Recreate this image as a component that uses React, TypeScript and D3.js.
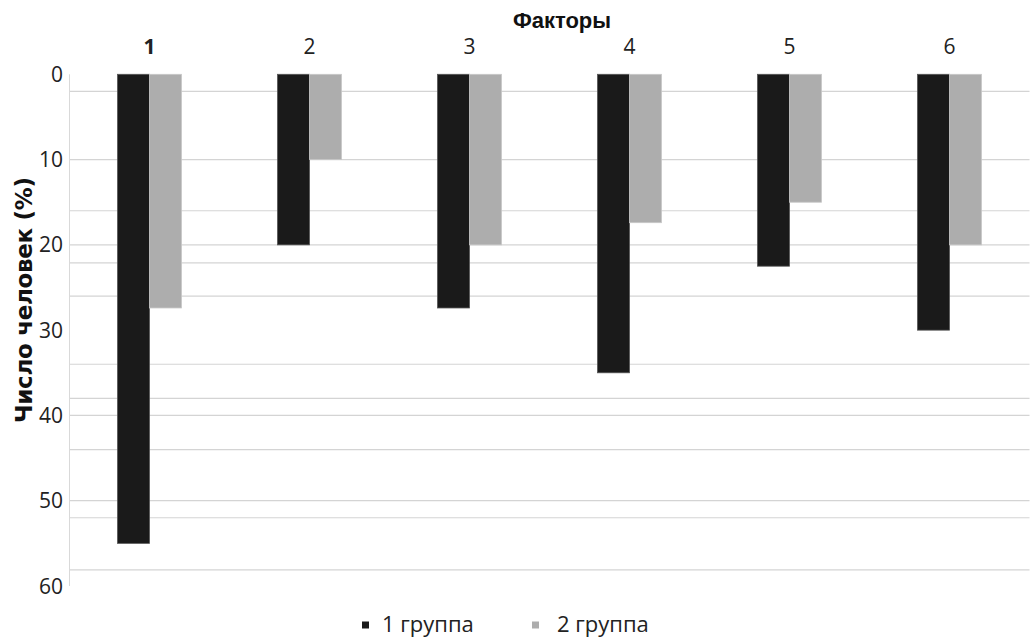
import React from "react";
import * as d3 from "d3";

const categories = ["1", "2", "3", "4", "5", "6"];
const seriesNames = ["1 группа", "2 группа"];
const group1 = [55, 20, 27.4, 35, 22.5, 30];
const group2 = [27.4, 10, 20, 17.4, 15, 20];
const yTicks = [0, 10, 20, 30, 40, 50, 60];
const gridValues = [2, 10, 16, 20, 22.1, 26, 34, 38, 40, 44, 50, 52, 58.1];
const colors = ["#1a1a1a", "#adadad"];
const strokes = ["#555555", "#c8c8c8"];

const W = 1031;
const H = 640;
const left = 69.5;
const right = 1029.5;
const top = 74.3;
const bottom = 586;

export default function App() {
  const x = d3.scaleBand<string>().domain(categories).range([left, right]).paddingInner(0.6).paddingOuter(0.3);
  const xs = d3.scaleBand<string>().domain(seriesNames).range([0, x.bandwidth()]);
  const y = d3.scaleLinear().domain([0, 60]).range([top, bottom]);
  const data = [group1, group2];
  const font = "'Open Sans', Lato, sans-serif";

  return (
    <div style={{ position: "absolute", left: 0, top: 0 }}>
      <svg width={W} height={H} style={{ display: "block", background: "#fff" }}>
        {gridValues.map((g, i) => (
          <line key={"g" + i} x1={left} x2={right} y1={y(g)} y2={y(g)} stroke="#d4d4d4" strokeWidth={1.2} />
        ))}
        <line x1={left} x2={left} y1={top} y2={bottom} stroke="#d9d9d9" strokeWidth={1} />
        {data.map((vals, si) =>
          categories.map((c, ci) => (
            <rect
              key={si + "-" + ci}
              x={(x(c) as number) + (xs(seriesNames[si]) as number)}
              y={y(0)}
              width={xs.bandwidth()}
              height={y(vals[ci]) - y(0)}
              fill={colors[si]}
              stroke={strokes[si]}
              strokeWidth={0.8}
            />
          ))
        )}
        {yTicks.map((t) => (
          <text key={"t" + t} x={63} y={y(t)} dy="0.36em" textAnchor="end" fontFamily={font} fontSize={21} fill="#222">
            {t}
          </text>
        ))}
        {categories.map((c, i) => (
          <text
            key={"c" + c}
            x={(x(c) as number) + x.bandwidth() / 2}
            y={54}
            textAnchor="middle"
            fontFamily={font}
            fontSize={21}
            fontWeight={i === 0 ? "bold" : "normal"}
            fill="#222"
          >
            {c}
          </text>
        ))}
        <text x={562} y={28} textAnchor="middle" fontFamily="'Liberation Sans', Arial, sans-serif" fontWeight="bold" fontSize={22} fill="#111">
          Факторы
        </text>
        <text
          transform={`translate(32,300) rotate(-90)`}
          textAnchor="middle"
          fontFamily="'DejaVu Sans', sans-serif"
          fontWeight="bold"
          fontSize={23}
          textLength={246}
          lengthAdjust="spacing"
          fill="#111"
        >
          Число человек (%)
        </text>
        {seriesNames.map((s, i) => (
          <g key={"l" + i} transform={`translate(362,0)`}>
            <rect x={i * 170} y={621.5} width={7} height={7} fill={colors[i]} />
            <text x={i * 175 + 20} y={632} fontFamily={font} fontSize={22} fill="#222">
              {s}
            </text>
          </g>
        ))}
      </svg>
    </div>
  );
}
